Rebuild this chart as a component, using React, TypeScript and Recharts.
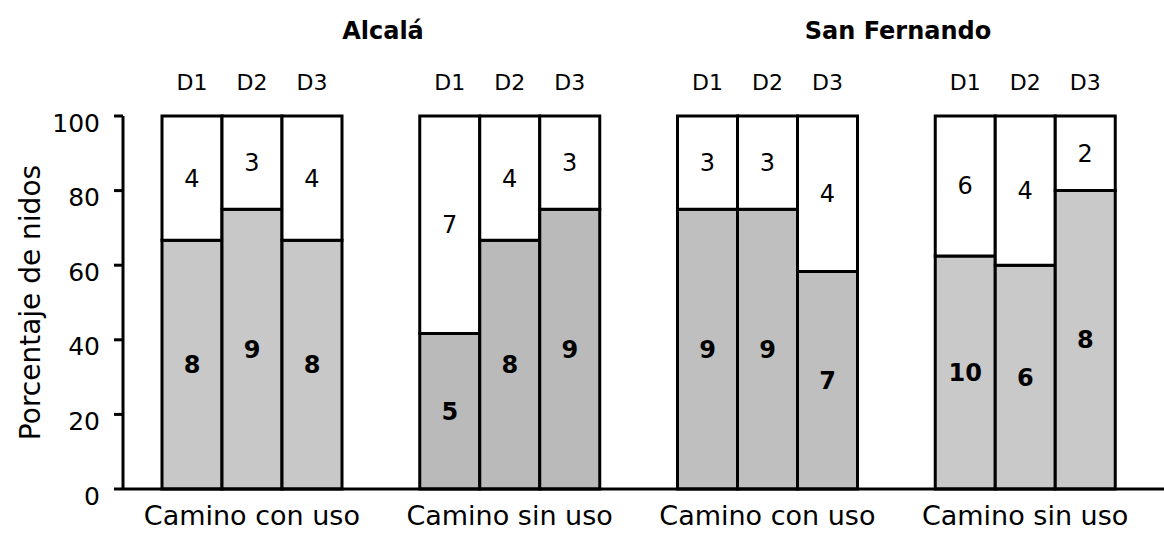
import React from 'react';
import { BarChart, Bar, XAxis, YAxis, LabelList, Cell } from 'recharts';

const groups = ['Camino con uso', 'Camino sin uso', 'Camino con uso', 'Camino sin uso'];
const sites = ['Alcalá', 'San Fernando'];
const dLabels = ['D1', 'D2', 'D3'];
const yTicks = [0, 20, 40, 60, 80, 100];

// % of nests in the shaded (lower) segment, one value per group
const shadedD1 = [66.7, 41.7, 75, 62.5];
const shadedD2 = [75, 66.7, 75, 60];
const shadedD3 = [66.7, 75, 58.3, 80];

// counts printed inside the shaded segment
const lowD1 = [8, 5, 9, 10];
const lowD2 = [9, 8, 9, 6];
const lowD3 = [8, 9, 7, 8];

// counts printed inside the white segment
const highD1 = [4, 7, 3, 6];
const highD2 = [3, 4, 3, 4];
const highD3 = [4, 3, 4, 2];

const FONT = '"DejaVu Sans", Arial, sans-serif';
const shade = ['#c8c8c8', '#bababa', '#bfbfbf', '#c9c9c9'];

const shaded = [shadedD1, shadedD2, shadedD3];
const low = [lowD1, lowD2, lowD3];
const high = [highD1, highD2, highD3];

const data = groups.map((g, i) => {
  const row: any = { group: g };
  ['d1', 'd2', 'd3'].forEach((k, j) => {
    row[k] = shaded[j][i];
    row[k + 'w'] = 100 - shaded[j][i];
    row[k + 'n'] = low[j][i];
    row[k + 'm'] = high[j][i];
  });
  return row;
});

const YLabel = (props: any) => {
  const vb = props.viewBox || {};
  const cx = 30;
  const cy = vb.y + vb.height / 2;
  return (
    <text
      x={cx}
      y={cy}
      textAnchor="middle"
      dominantBaseline="central"
      transform={`rotate(-90, ${cx}, ${cy})`}
      fontSize={28}
      fontFamily={FONT}
      fill="#000"
    >
      Porcentaje de nidos
    </text>
  );
};

const YTick = (props: any) => (
  <text
    x={props.x}
    y={props.y + 7}
    textAnchor="end"
    dominantBaseline="central"
    fontSize={25}
    fontFamily={FONT}
    fill="#000"
  >
    {props.payload.value}
  </text>
);

const makeDLabel = (txt: string) => (props: any) => {
  const x = Number(props.x);
  const y = Number(props.y);
  const w = Number(props.width);
  return (
    <text
      x={x + w / 2}
      y={y - 34}
      textAnchor="middle"
      dominantBaseline="central"
      fontSize={22}
      fontFamily={FONT}
      fill="#000"
    >
      {txt}
    </text>
  );
};

export default function App() {
  const bars: React.ReactNode[] = [];
  ['d1', 'd2', 'd3'].forEach((k, j) => {
    bars.push(
      <Bar key={k} dataKey={k} stackId={k} stroke="#000" strokeWidth={3} isAnimationActive={false}>
        {data.map((_, i) => (
          <Cell key={i} fill={shade[i]} />
        ))}
        <LabelList
          dataKey={k + 'n'}
          position="center"
          fill="#000"
          fontSize={24}
          fontWeight="bold"
          fontFamily={FONT}
        />
      </Bar>
    );
    bars.push(
      <Bar key={k + 'w'} dataKey={k + 'w'} stackId={k} fill="#fff" stroke="#000" strokeWidth={3} isAnimationActive={false}>
        <LabelList dataKey={k + 'm'} position="center" fill="#000" fontSize={24} fontFamily={FONT} />
        <LabelList dataKey={k + 'm'} content={makeDLabel(dLabels[j])} />
      </Bar>
    );
  });

  return (
    <div style={{ position: 'absolute', left: 0, top: 0, width: 1164, height: 540, background: '#fff', fontFamily: FONT }}>
      <BarChart
        width={1164}
        height={540}
        data={data}
        margin={{ top: 116, right: 0, bottom: 0, left: 0 }}
        barSize={60}
        barGap={0}
      >
        <XAxis
          dataKey="group"
          interval={0}
          height={51}
          axisLine={{ stroke: '#000', strokeWidth: 3 }}
          tickLine={false}
          tickMargin={11}
          padding={{ left: 0, right: 10 }}
          tick={{ fill: '#000', fontSize: 27, fontFamily: FONT }}
        />
        <YAxis
          domain={[0, 100]}
          ticks={yTicks}
          width={123}
          axisLine={{ stroke: '#000', strokeWidth: 3 }}
          tickLine={{ stroke: '#000', strokeWidth: 3 }}
          tickSize={9}
          tickMargin={14}
          tick={<YTick />}
          label={<YLabel />}
        />
        {bars}
      </BarChart>
      {sites.map((s, i) => (
        <div
          key={s}
          style={{
            position: 'absolute',
            top: 31,
            left: i === 0 ? 383 : 898,
            transform: 'translate(-50%, -50%)',
            fontWeight: 'bold',
            fontSize: 24,
            whiteSpace: 'nowrap',
            color: '#000',
          }}
        >
          {s}
        </div>
      ))}
    </div>
  );
}
